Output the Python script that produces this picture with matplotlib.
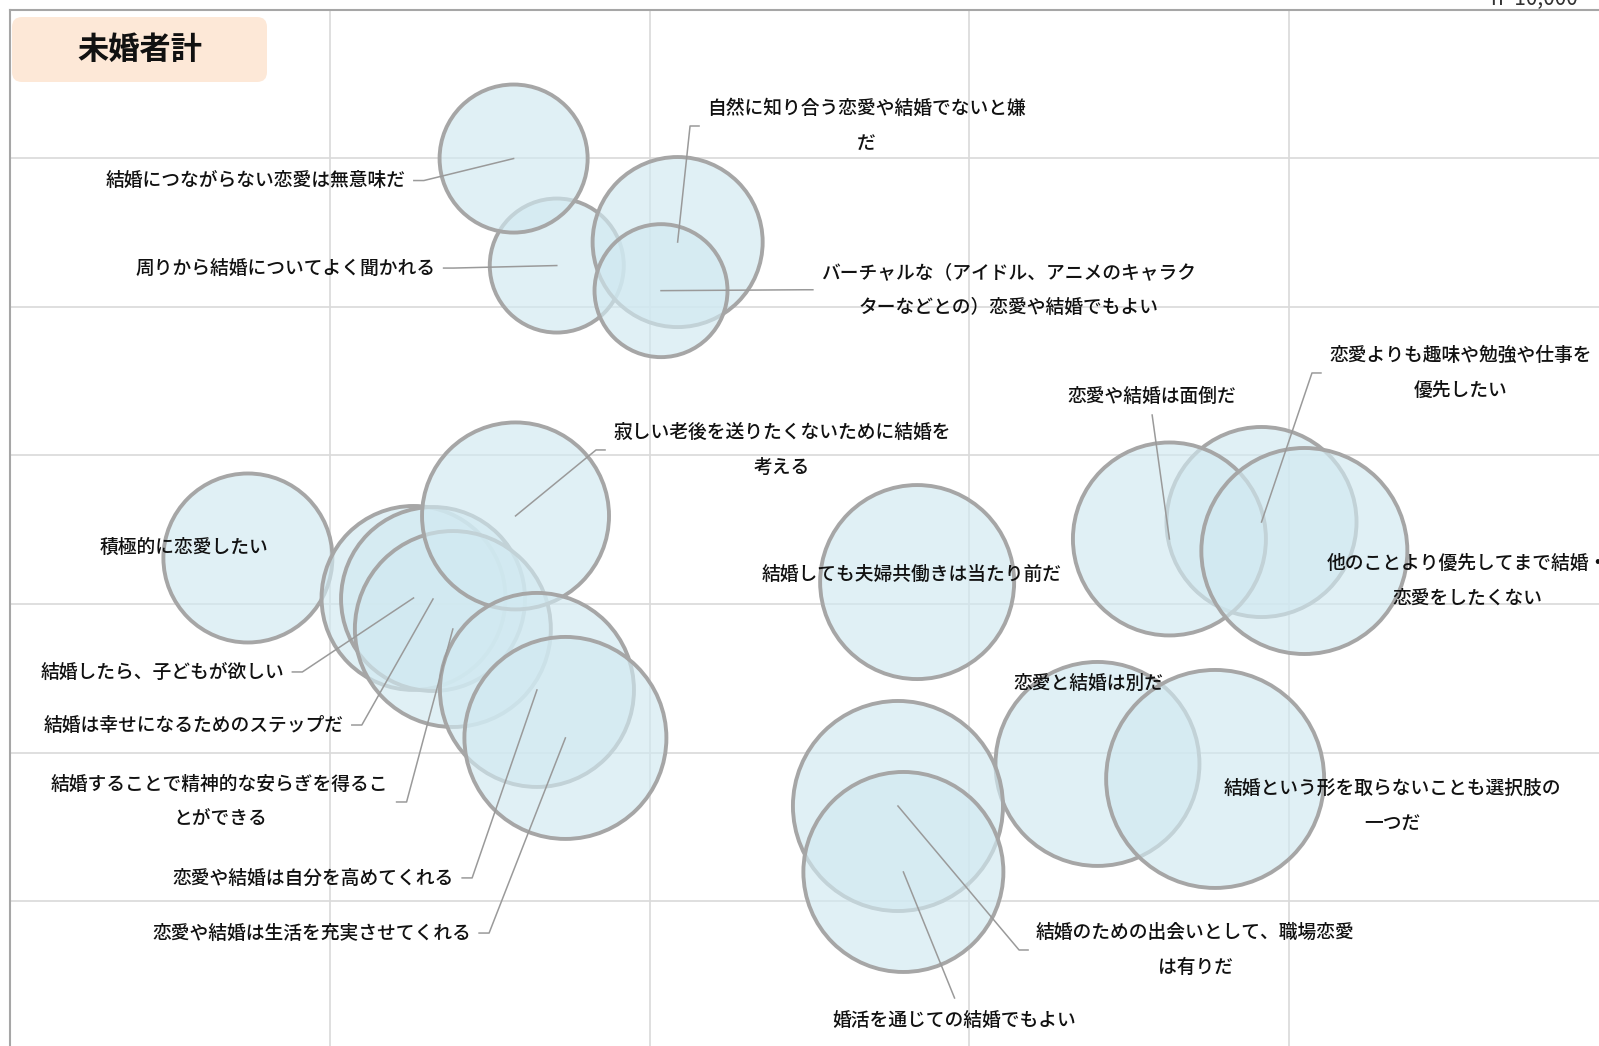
import matplotlib.pyplot as plt
import numpy as np
from matplotlib.patches import FancyBboxPatch
from matplotlib.transforms import IdentityTransform

plt.rcParams["font.family"] = ["Noto Sans CJK JP", "DejaVu Sans"]

# bubbles, listed back to front
labels = [
    "周りから結婚についてよく聞かれる",
    "結婚につながらない恋愛は無意味だ",
    "自然に知り合う恋愛や結婚でないと嫌\nだ",
    "バーチャルな（アイドル、アニメのキャラク\nターなどとの）恋愛や結婚でもよい",
    "積極的に恋愛したい",
    "結婚したら、子どもが欲しい",
    "結婚は幸せになるためのステップだ",
    "結婚することで精神的な安らぎを得るこ\nとができる",
    "寂しい老後を送りたくないために結婚を\n考える",
    "恋愛や結婚は自分を高めてくれる",
    "恋愛や結婚は生活を充実させてくれる",
    "結婚しても夫婦共働きは当たり前だ",
    "恋愛よりも趣味や勉強や仕事を\n優先したい",
    "恋愛や結婚は面倒だ",
    "他のことより優先してまで結婚・\n恋愛をしたくない",
    "恋愛と結婚は別だ",
    "結婚という形を取らないことも選択肢の\n一つだ",
    "結婚のための出会いとして、職場恋愛\nは有りだ",
    "婚活を通じての結婚でもよい",
]
x_vals = [17.10, 15.75, 20.88, 20.36, 7.44, 12.62, 13.23, 13.85, 15.81, 16.48,
          17.37, 28.37, 39.14, 36.26, 40.48, 34.01, 37.69, 27.77, 27.94]
y_vals = [52.77, 59.97, 54.35, 51.08, 33.09, 30.40, 30.33, 28.31, 35.92, 24.21,
          20.98, 31.47, 35.51, 34.37, 33.56, 19.23, 18.22, 16.40, 11.96]
bubble_vals = [44.9, 54.8, 72.3, 44.2, 71.4, 84.6, 84.6, 96.0, 87.4, 94.1,
               102.0, 94.1, 90.3, 93.1, 106.1, 104.0, 118.8, 110.3, 100.0]

# label placement (x, y, side); side: R = label left of bubble, L = label right,
# T = label above, B = label below, "" = no leader line
label_pos = [
    (13.31, 52.60, "R"), (12.38, 58.49, "R"), (21.80, 62.16, "L"), (25.36, 51.14, "L"),
    (5.43, 33.79, ""), (8.58, 25.42, "R"), (10.44, 21.85, "R"), (11.84, 16.67, "R"),
    (18.86, 40.36, "L"), (13.89, 11.56, "R"), (14.42, 7.85, "R"), (28.20, 32.01, ""),
    (41.25, 45.54, "L"), (35.72, 43.99, "T"), (45.57, 31.54, ""), (33.74, 24.68, ""),
    (43.22, 16.40, ""), (32.09, 6.71, "L"), (29.54, 2.00, "B"),
]

W, H = 1599, 1046
fig = plt.figure(figsize=(W / 100, H / 100), dpi=100)
left, top = 10 / W, 1 - 9.5 / H
width, height = 1598.75 / W, 1040.2 / H
ax = fig.add_axes([left, top - height, width, height])
ax.set_xlim(0, 50)
ax.set_ylim(0, 70)
ax.set_xticks(range(0, 51, 10))
ax.set_yticks(range(0, 71, 10))
ax.tick_params(length=0, labelbottom=False, labelleft=False)
ax.grid(color="#d9d9d9", lw=1.2)
ax.set_axisbelow(True)
for side in ("top", "left", "right", "bottom"):
    ax.spines[side].set_color("#a6a6a6")
    ax.spines[side].set_linewidth(1.5)

sizes = 207.36 * np.array(bubble_vals)
ax.scatter(x_vals, y_vals, s=sizes, facecolors=[(0.82, 0.915, 0.945, 0.66)],
           edgecolors="#a6a6a6", linewidths=2.8, zorder=2)

to_disp = ax.transData.transform
to_data = ax.transData.inverted().transform

for text, (lx, ly, side), x, y in zip(labels, label_pos, x_vals, y_vals):
    ha = {"R": "right", "L": "left"}.get(side, "center")
    ax.text(lx, ly, text, ha=ha, va="center", multialignment="center",
            fontsize=13.5, fontweight="medium", linespacing=2.05,
            color="#111111", zorder=4)
    if not side:
        continue
    ax_, ay_ = to_disp((lx, ly))
    if side == "R":
        pts = [(ax_ + 8, ay_), (ax_ + 18, ay_)]
    elif side == "L":
        pts = [(ax_ - 8, ay_), (ax_ - 17, ay_)]
    elif side == "T":
        pts = [(ax_, ay_ - 19)]
    else:
        pts = [(ax_, ay_ + 22)]
    pts.append(tuple(to_disp((x, y))))
    pts = to_data(np.array(pts))
    ax.plot(pts[:, 0], pts[:, 1], color="#9a9a9a", lw=1.1, zorder=3)

# title box
fig.add_artist(FancyBboxPatch((12, H - 82), 255, 65,
                              boxstyle="round,pad=0,rounding_size=10",
                              transform=IdentityTransform(),
                              facecolor="#fde8d7", edgecolor="none"))
fig.text(139.5 / W, 1 - 49.5 / H, "未婚者計", ha="center", va="center",
         fontsize=22.5, fontweight="bold", color="#111111")
fig.text(1490 / W, 1 - 5 / H, "n=10,000", ha="left", va="baseline",
         fontsize=15, color="#333333")

fig.savefig("out.png", dpi=100)
